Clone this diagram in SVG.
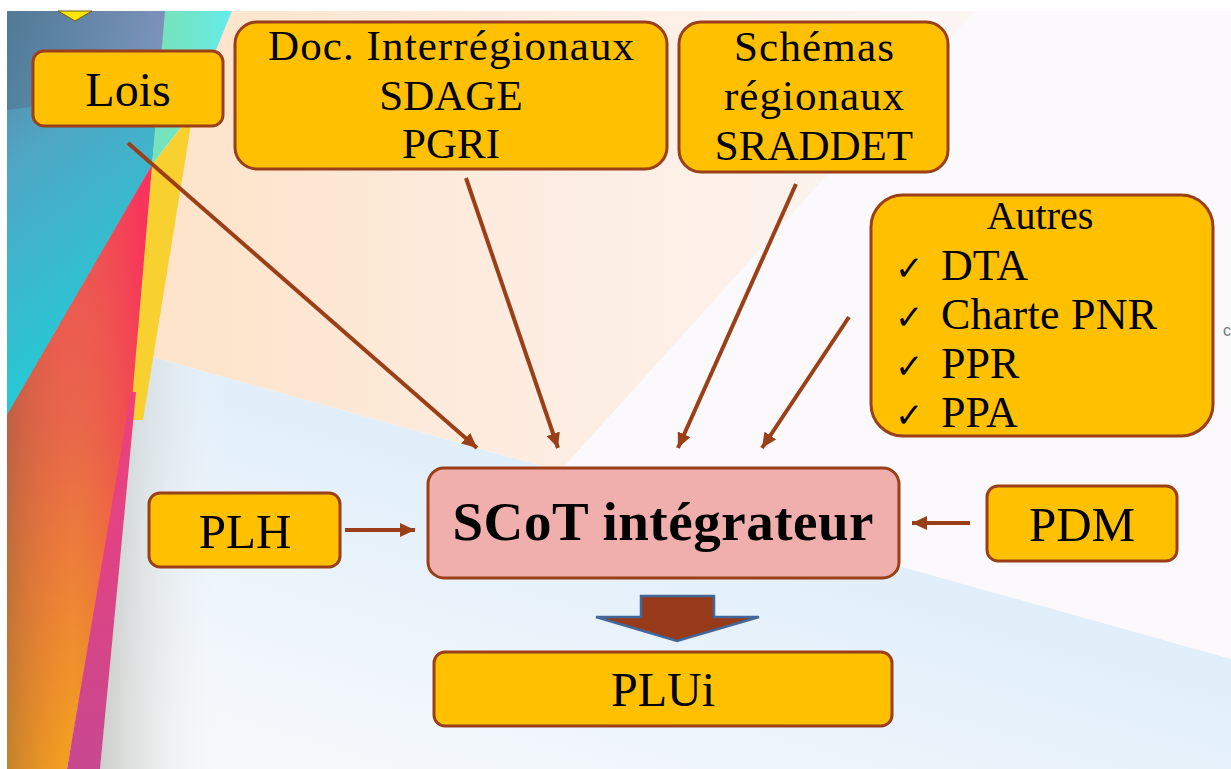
<svg xmlns="http://www.w3.org/2000/svg" width="1231" height="769" viewBox="0 0 1231 769">
<defs>
<style>
.box{fill:#ffc000;stroke:#9a3f17;stroke-width:3}
.scot{fill:#f0afad;stroke:#9a3f17;stroke-width:3}
.t{font-family:"Liberation Serif","Times New Roman",serif;fill:#000;text-anchor:middle}
.tl{font-family:"Liberation Serif","Times New Roman",serif;fill:#000}
.ck{font-family:"DejaVu Sans",sans-serif;fill:#000;font-weight:bold}
.con{stroke:#9a3f17;stroke-width:4;fill:none;marker-end:url(#ah)}
</style>
<marker id="ah" markerUnits="userSpaceOnUse" markerWidth="16" markerHeight="14" refX="15" refY="7" orient="auto">
<path d="M0,0 L15,7 L0,14 Z" fill="#9a3f17"/>
</marker>
<linearGradient id="gBlue" x1="0" y1="0" x2="0.3" y2="1">
<stop offset="0" stop-color="#5c7f9c"/>
<stop offset="0.35" stop-color="#4fa6c4"/>
<stop offset="1" stop-color="#1fd0da"/>
</linearGradient>
<linearGradient id="gBlueTop" x1="0" y1="0" x2="1" y2="0">
<stop offset="0" stop-color="#4d7590" stop-opacity="0.6"/>
<stop offset="1" stop-color="#8a8fbb" stop-opacity="0.8"/>
</linearGradient>
<linearGradient id="gGreen" x1="0" y1="0" x2="1" y2="0">
<stop offset="0" stop-color="#78e2b8"/>
<stop offset="0.6" stop-color="#6ee6d0"/>
<stop offset="1" stop-color="#64ecee"/>
</linearGradient>
<linearGradient id="gWarm" gradientUnits="userSpaceOnUse" x1="0" y1="165" x2="40" y2="769">
<stop offset="0" stop-color="#f0485a"/>
<stop offset="0.45" stop-color="#e8684a"/>
<stop offset="1" stop-color="#f2a41e"/>
</linearGradient>
<linearGradient id="gWarmH" gradientUnits="userSpaceOnUse" x1="7" y1="0" x2="140" y2="0">
<stop offset="0" stop-color="#8a5a3a" stop-opacity="0.45"/>
<stop offset="0.5" stop-color="#f06040" stop-opacity="0"/>
<stop offset="1" stop-color="#ff2060" stop-opacity="0.55"/>
</linearGradient>
<linearGradient id="gPink" x1="0" y1="0" x2="0" y2="1">
<stop offset="0" stop-color="#f0407a"/>
<stop offset="1" stop-color="#c84890"/>
</linearGradient>
<linearGradient id="gPeach" x1="0" y1="0" x2="1" y2="0">
<stop offset="0" stop-color="#fde3c8"/>
<stop offset="0.5" stop-color="#fdede2"/>
<stop offset="1" stop-color="#fcf6f4"/>
</linearGradient>
<linearGradient id="gLB" x1="1" y1="0" x2="0.2" y2="1">
<stop offset="0" stop-color="#d8ecfa"/>
<stop offset="0.5" stop-color="#e2effa"/>
<stop offset="1" stop-color="#f6f9fc"/>
</linearGradient>
<linearGradient id="gShade" gradientUnits="userSpaceOnUse" x1="100" y1="0" x2="230" y2="0">
<stop offset="0" stop-color="#b0b0a8" stop-opacity="0.6"/>
<stop offset="1" stop-color="#ffffff" stop-opacity="0"/>
</linearGradient>
</defs>

<g id="background">
<rect x="0" y="0" width="1231" height="769" fill="#ffffff"/>
<rect x="7" y="11" width="1224" height="758" fill="#fbf9fc"/>
<polygon points="190,11 975,11 560,471 145,355" fill="url(#gPeach)"/>
<polygon points="145,355 1231,659 1231,769 100,769 132,400" fill="url(#gLB)"/>
<polygon points="145,355 240,382 230,769 100,769 132,400" fill="url(#gShade)"/>
<polygon points="7,11 168,11 152,165 7,420" fill="url(#gBlue)"/>
<polygon points="7,11 168,11 160,90 7,110" fill="url(#gBlueTop)"/>
<polygon points="165,11 232,11 188,118 152,165" fill="url(#gGreen)"/>
<polygon points="152,165 193,112 143,420 130,420" fill="#f8d030"/>
<polygon points="152,165 132,400 67,769 7,769 7,415" fill="url(#gWarm)"/>
<polygon points="152,165 132,400 67,769 7,769 7,415" fill="url(#gWarmH)"/>
<polygon points="131,392 136,392 100,769 67,769" fill="url(#gPink)"/>
<polygon points="58,11 92,11 75,21" fill="#ffe600" stroke="#6b5a20" stroke-width="1"/>
<text x="1223" y="336" font-family="Liberation Sans, sans-serif" font-size="16" fill="#777">c</text>
</g>

<g id="connectors">
<line class="con" x1="128" y1="143" x2="477" y2="448"/>
<line class="con" x1="466" y1="178" x2="558" y2="448"/>
<line class="con" x1="796" y1="184" x2="678" y2="448"/>
<line class="con" x1="849" y1="317" x2="762" y2="448"/>
<line class="con" x1="345" y1="530" x2="415" y2="530"/>
<line class="con" x1="970" y1="523" x2="912" y2="523"/>
<polygon points="641,596 714,596 714,617 759,617 677,641 596,617 641,617" fill="#973a1a" stroke="#44679a" stroke-width="2.5" stroke-linejoin="miter"/>
</g>

<g id="lois">
<rect class="box" x="33" y="51" width="190" height="75" rx="11"/>
<text class="t" x="128" y="106" font-size="48">Lois</text>
</g>

<g id="doc">
<rect class="box" x="235" y="22" width="432" height="147" rx="22"/>
<text class="t" x="451" y="60" font-size="43" textLength="366">Doc. Interrégionaux</text>
<text class="t" x="451" y="110" font-size="43">SDAGE</text>
<text class="t" x="451" y="158" font-size="43">PGRI</text>
</g>

<g id="schemas">
<rect class="box" x="679" y="22" width="269" height="150" rx="22"/>
<text class="t" x="814" y="61" font-size="43" textLength="160">Schémas</text>
<text class="t" x="814" y="110" font-size="43" textLength="180">régionaux</text>
<text class="t" x="814" y="160" font-size="43">SRADDET</text>
</g>

<g id="autres">
<rect class="box" x="871" y="195" width="342" height="241" rx="32"/>
<text class="t" x="1040" y="229" font-size="40">Autres</text>
<text class="ck" x="895" y="280" font-size="34">✓</text>
<text class="tl" x="941" y="280" font-size="44">DTA</text>
<text class="ck" x="895" y="329" font-size="34">✓</text>
<text class="tl" x="941" y="329" font-size="44" textLength="216">Charte PNR</text>
<text class="ck" x="895" y="378" font-size="34">✓</text>
<text class="tl" x="941" y="378" font-size="44">PPR</text>
<text class="ck" x="895" y="427" font-size="34">✓</text>
<text class="tl" x="941" y="427" font-size="44">PPA</text>
</g>

<g id="scot">
<rect class="scot" x="428" y="468" width="471" height="110" rx="16"/>
<text class="t" x="663" y="540" font-size="55" font-weight="bold" textLength="421">SCoT intégrateur</text>
</g>

<g id="plh">
<rect class="box" x="149" y="493" width="191" height="74" rx="11"/>
<text class="t" x="245" y="548" font-size="49">PLH</text>
</g>

<g id="pdm">
<rect class="box" x="987" y="486" width="190" height="75" rx="11"/>
<text class="t" x="1082" y="541" font-size="49">PDM</text>
</g>

<g id="plui">
<rect class="box" x="434" y="652" width="458" height="74" rx="11"/>
<text class="t" x="663" y="706" font-size="48">PLUi</text>
</g>
</svg>
